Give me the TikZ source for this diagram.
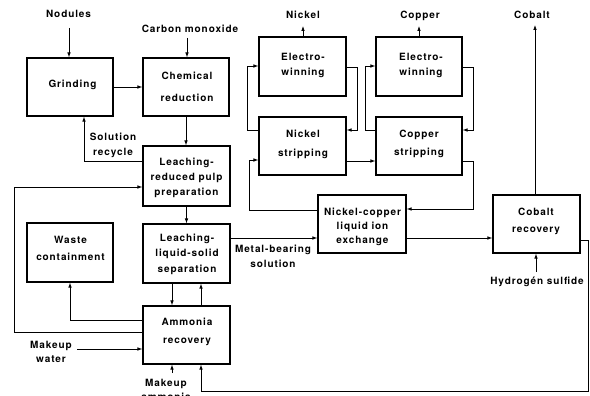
\documentclass[tikz,border=0pt]{standalone}
\usepackage{fontspec}
\setmainfont{TeX Gyre Heros}[LetterSpace=9]
\usetikzlibrary{arrows.meta}
\begin{document}
\begin{tikzpicture}[x=1pt,y=-1pt,
  box/.style={draw, line width=1.1pt, inner sep=0pt, minimum width=86pt, minimum height=58pt},
  txt/.style={anchor=north, yshift=3.6pt, inner sep=0pt, align=center, font=\fontsize{10}{12}\selectfont\bfseries},
  arr/.style={draw, line width=0.8pt, -{Latex[length=5pt,width=3.6pt]}}]
\fill[white] (0,0) rectangle (590,396);
\useasboundingbox (0,0) rectangle (590,396);

% boxes
\node[box] (grind) at (70,87) {};
\node[box] (chem) at (186,87) {};
\node[box, minimum width=87pt, minimum height=60pt] (pulp) at (186.5,176) {};
\node[box, minimum height=59pt] (waste) at (70,252.5) {};
\node[box, minimum width=87pt, minimum height=59pt] (sep) at (186.5,253.5) {};
\node[box, minimum width=87pt] (amm) at (186.5,335) {};
\node[box, minimum width=87pt, minimum height=59pt] (niew) at (302.5,66.5) {};
\node[box, minimum height=59pt] (cuew) at (419,66.5) {};
\node[box, minimum width=87pt] (nist) at (302.5,146) {};
\node[box] (cust) at (419,146) {};
\node[box, minimum width=88pt] (ionx) at (362,224) {};
\node[box, minimum width=87pt] (cob) at (536.5,224) {};

% texts in boxes
\node[txt] (grindT) at (72.5,83) {Grinding};
\node[txt] (chemT) at (187,75) {Chemical\\[10pt]reduction};
\node[txt] (pulpT) at (186.5,161) {Leaching-\\[3pt]reduced pulp\\[3pt]preparation};
\node[txt] (wasteT) at (70.5,240) {Waste\\[5pt]containment};
\node[txt] (sepT) at (187,237) {Leaching-\\[3.5pt]liquid-solid\\[3.5pt]separation};
\node[txt] (ammT) at (187,321) {Ammonia\\[6pt]recovery};
\node[txt] (niewT) at (303,57) {Electro-\\[3pt]winning};
\node[txt] (cuewT) at (421,57) {Electro-\\[3pt]winning};
\node[txt] (nistT) at (303,133.5) {Nickel\\[6.5pt]stripping};
\node[txt] (custT) at (419,133) {Copper\\[6pt]stripping};
\node[txt] (ionxT) at (362.5,211) {Nickel-copper\\[2pt]liquid ion\\[2pt]exchange};
\node[txt] (cobT) at (536,211) {Cobalt\\[5pt]recovery};

% free labels
\node[txt] (nod) at (68.5,14) {Nodules};
\node[txt] (co) at (190,28.5) {Carbon monoxide};
\node[txt] (niL) at (303,14) {Nickel};
\node[txt] (cuL) at (420,14) {Copper};
\node[txt] (cobL) at (532,14) {Cobalt};
\node[txt] (hs) at (537,280) {Hydrogén sulfide};
\node[txt] (sol) at (113,136) {Solution\\[3pt]recycle};
\node[txt] (mb) at (273,248) {Metal-bearing\\[3pt]solution};
\node[txt] (mw) at (51,345) {Makeup\\[2pt]water};
\node[txt] (ma) at (166,383) {Makeup\\[2pt]ammonia};

% free ends
\coordinate (nodS) at (69,28);
\coordinate (coS) at (187,38);
\coordinate (niE) at (303,26);
\coordinate (cuE) at (419,26);
\coordinate (cobE) at (535,25);
\coordinate (hsS) at (536,272);
\coordinate (mwS) at (77,349);
\coordinate (maS) at (172,373);

% connectors
\draw[arr] (nodS) -- (nodS |- grind.north);
\draw[arr] (coS) -- (coS |- chem.north);
\draw[arr] (grind) -- (chem);
\draw[arr] (chem.south) -- (chem.south |- pulp.north);
\draw[arr] (pulp.west |- 0,161) -| ([xshift=14pt]grind.south);
\draw[arr] (amm.west |- 0,332) -- (14,332) |- (pulp.west |- 0,187);
\draw[arr] (amm.west |- 0,320) -| (waste.south);
\draw[arr] (mwS) -- (amm.west |- mwS);
\draw[arr] (maS) -- (maS |- amm.south);
\draw[arr] (pulp.south) -- (pulp.south |- sep.north);
\draw[arr] (sep.south -| 172,0) -- (amm.north -| 172,0);
\draw[arr] (amm.north -| 201,0) -- (sep.south -| 201,0);
\draw[arr] (sep.east |- 0,238) -- (ionx.west |- 0,238);
\draw[arr] (ionx.east |- 0,238) -- (cob.west |- 0,238);
\draw[arr] (cob.east |- 0,240) -| (588,391) -| (amm.south -| 201,0);
\draw[arr] (hsS) -- (hsS |- cob.south);
\draw[arr] (cob.north -| cobE) -- (cobE);
\draw[arr] (niew.north -| niE) -- (niE);
\draw[arr] (cuew.north -| cuE) -- (cuE);
\draw[arr] (nist.west |- 0,130) -- (247,130) |- (niew.west |- 0,66);
\draw[arr] (niew.east |- 0,67) -- (357,67) |- (nist.east |- 0,130);
\draw[arr] (cust.west |- 0,130) -- (365,130) |- (cuew.west |- 0,66);
\draw[arr] (cuew.east |- 0,67) -- (473,67) |- (cust.east |- 0,130);
\draw[arr] (nist.east |- 0,161) -- (cust.west |- 0,161);
\draw[arr] (ionx.west |- 0,210) -- (249,210) |- (nist.west |- 0,160);
\draw[arr] (cust.east |- 0,161) -- (473,161) |- (ionx.east |- 0,209);
\end{tikzpicture}
\end{document}
